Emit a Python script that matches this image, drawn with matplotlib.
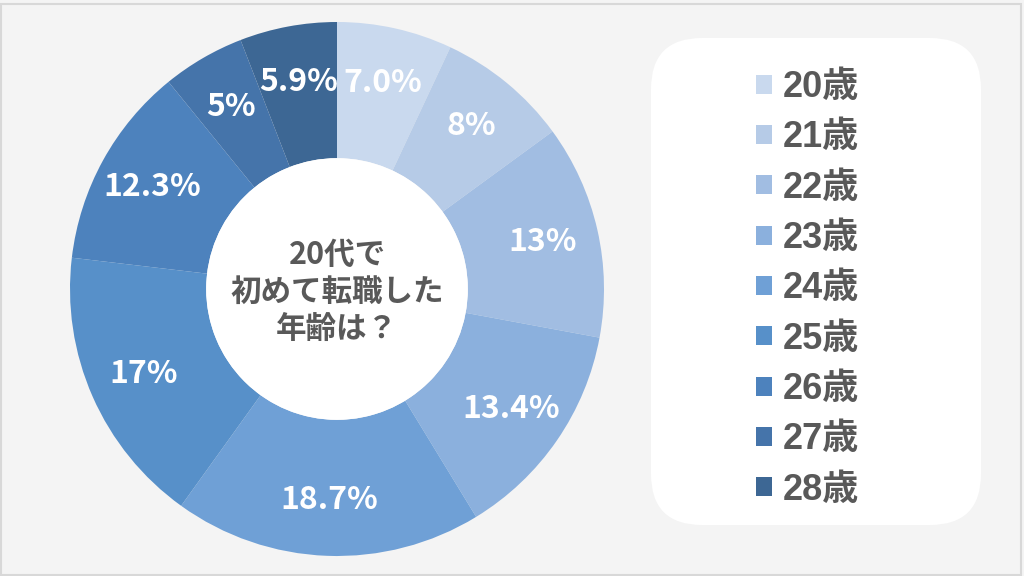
import matplotlib.pyplot as plt
from matplotlib.patches import FancyBboxPatch, Rectangle, Circle

plt.rcParams['font.family'] = ['Noto Sans CJK JP', 'DejaVu Sans']

# data
ages = ['20歳', '21歳', '22歳', '23歳', '24歳', '25歳', '26歳', '27歳', '28歳']
shares = [7.0, 8, 13, 13.4, 18.7, 17, 12.3, 5, 5.9]
pct_labels = ['7.0%', '8%', '13%', '13.4%', '18.7%', '17%', '12.3%', '5%', '5.9%']
colors = ['#c9d9ee', '#b6cbe7', '#a1bde2', '#8bb0dd', '#6fa0d6',
          '#5790c9', '#4d82bd', '#4574aa', '#3d6794']
center_title = '20代で\n初めて転職した\n年齢は？'

W, H = 1024, 576
fig = plt.figure(figsize=(W / 100, H / 100), dpi=100)
fig.patch.set_facecolor('#f4f4f4')

# thin frame round the picture
fig.patches.append(Rectangle((1 / W, 1 / H), 1 - 4 / W, 1 - 5 / H, transform=fig.transFigure,
                             fill=False, edgecolor='#d8d8d8', linewidth=1.5))

# donut
cx, cy, r = 337, 289, 267
ax = fig.add_axes([(cx - r) / W, (H - cy - r) / H, 2 * r / W, 2 * r / H])
wedges, texts = ax.pie(shares, colors=colors, startangle=90, counterclock=False,
                       radius=1, labels=pct_labels, labeldistance=0.79,
                       wedgeprops=dict(width=0.51, linewidth=0),
                       textprops=dict(color='white', fontsize=23, fontweight='bold',
                                      ha='center', va='center'))
ax.add_patch(Circle((0, 0), 0.49, facecolor='white', edgecolor='none'))
ax.set_xlim(-1, 1)
ax.set_ylim(-1, 1)
ax.set_aspect('equal')
ax.text(0, -0.01, center_title, ha='center', va='center', fontsize=22,
        fontweight='bold', color='#595959', linespacing=1.2)

# legend box
box = FancyBboxPatch((651 / W, (H - 525) / H), 330 / W, 487 / H,
                     boxstyle='round,pad=0,rounding_size=0.05',
                     transform=fig.transFigure, facecolor='white', edgecolor='none',
                     mutation_aspect=W / H)
fig.patches.append(box)

leg = fig.legend(wedges, ages, loc='upper left', bbox_to_anchor=(756 / W, 1 - 70 / H),
                 frameon=False, handlelength=0.44, handleheight=0.44,
                 handletextpad=0.3, labelspacing=0.425, borderaxespad=0, borderpad=0,
                 prop=dict(family=['Liberation Sans', 'Noto Sans CJK JP'],
                           weight='bold', size=26))
for t in leg.get_texts():
    t.set_color('#595959')

fig.savefig('out.png', dpi=100, facecolor=fig.get_facecolor())
